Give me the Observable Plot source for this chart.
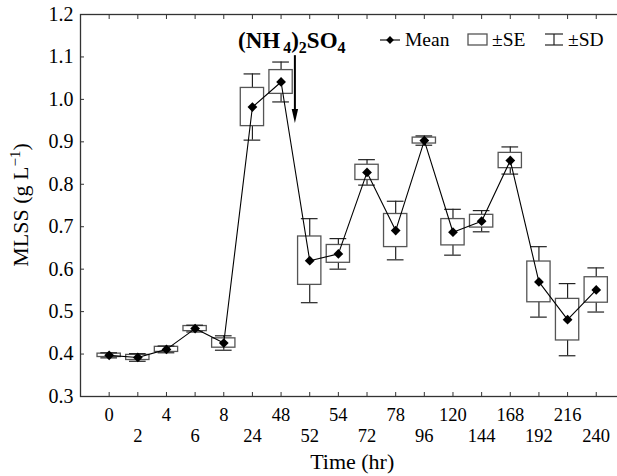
<!DOCTYPE html>
<html><head><meta charset="utf-8">
<script src="https://cdn.jsdelivr.net/npm/d3@7"></script>
<script src="https://cdn.jsdelivr.net/npm/@observablehq/plot@0.6"></script>
<style>
html,body{margin:0;padding:0;background:#fff;overflow:hidden;}
svg text{font-family:"Liberation Serif",serif;}
</style></head><body><div id="chart"></div>
<script>
// ---- data ----
const times = ["0","2","4","6","8","24","48","52","54","72","78","96","120","144","168","192","216","240"];
const means = [0.397,0.392,0.411,0.460,0.426,0.982,1.041,0.620,0.636,0.828,0.691,0.903,0.687,0.713,0.856,0.570,0.481,0.551];
const se    = [0.004,0.006,0.006,0.006,0.011,0.045,0.028,0.057,0.021,0.018,0.039,0.007,0.031,0.015,0.018,0.048,0.049,0.030];
const sd    = [0.006,0.009,0.008,0.008,0.017,0.078,0.047,0.099,0.036,0.030,0.069,0.011,0.054,0.025,0.032,0.083,0.085,0.052];
const yTicks = [0.3,0.4,0.5,0.6,0.7,0.8,0.9,1.0,1.1,1.2];
const legendLabels = ["Mean","\u00b1SE","\u00b1SD"];
const xTitle = "Time (hr)";
const arrowBetween = ["48","52"];
const arrowY = [1.103, 0.943];

const data = times.map((t,i)=>({t, m:means[i], seLo:means[i]-se[i], seHi:means[i]+se[i], sdLo:means[i]-sd[i], sdHi:means[i]+sd[i]}));
const evenT = times.filter((d,i)=>i%2===0);
const oddT = times.filter((d,i)=>i%2===1);

const W = 617, H = 476, MR = -7.4;
const plot = Plot.plot({
  width: W, height: H,
  marginLeft: 80, marginRight: MR, marginTop: 14, marginBottom: 80,
  style: {fontFamily: "Liberation Serif", fontSize: "18.5px", background: "#fff", color: "#000", overflow: "hidden"},
  x: {type: "band", domain: times, paddingInner: 0.187, paddingOuter: 0.594, round: false},
  y: {domain: [0.3, 1.2]},
  marks: [
    Plot.ruleX(data, {x: "t", y1: "sdLo", y2: "sdHi", stroke: "#222", strokeWidth: 1.2}),
    Plot.barY(data, {x: "t", y1: "seLo", y2: "seHi", fill: "#fff", stroke: "#555", strokeWidth: 1.3}),
    Plot.tickY(data, {x: "t", y: "sdHi", stroke: "#222", strokeWidth: 1.2, insetLeft: 3.3, insetRight: 3.3}),
    Plot.tickY(data, {x: "t", y: "sdLo", stroke: "#222", strokeWidth: 1.2, insetLeft: 3.3, insetRight: 3.3}),
    Plot.line(data, {x: "t", y: "m", stroke: "#000", strokeWidth: 1.1}),
    Plot.dot(data, {x: "t", y: "m", symbol: "diamond2", r: 4.4, fill: "#000", stroke: "none"}),
    Plot.frame({stroke: "#333", strokeWidth: 1.3}),
    // axes: inward ticks
    Plot.axisX({anchor: "bottom", ticks: times, tickSize: -4, tickFormat: () => "", label: null, stroke: "#333"}),
    Plot.axisX({anchor: "top", ticks: times, tickSize: -4, tickFormat: () => "", label: null, stroke: "#333"}),
    Plot.axisY({anchor: "left", ticks: yTicks, tickSize: -4, tickFormat: () => "", label: null, stroke: "#333"}),
    // labels
    Plot.axisX({anchor: "bottom", ticks: evenT, tickSize: 0, tickPadding: 11, label: null, fill: "#000"}),
    Plot.axisX({anchor: "bottom", ticks: oddT, tickSize: 0, tickPadding: 32, label: null, fill: "#000"}),
    Plot.axisY({anchor: "left", ticks: yTicks, tickSize: 0, tickPadding: 7, tickFormat: d3.format(".1f"), label: null, fill: "#000", fontSize: 20})
  ]
});
document.getElementById("chart").appendChild(plot);

const svg = d3.select(plot);
const xs = plot.scale("x"), ys = plot.scale("y");
const bw = xs.bandwidth;
const fx = t => xs.apply(t) + bw/2;

// x title
svg.append("text").attr("x", (80 + W - MR)/2).attr("y", 469).attr("text-anchor","middle")
  .style("font-size","22px").attr("fill","#000").text(xTitle);

// y title with superscript
const yt = svg.append("text").attr("transform", `translate(28,${(14+396)/2}) rotate(-90)`)
  .attr("text-anchor","middle").style("font-size","22px").attr("fill","#000");
yt.append("tspan").text("MLSS (g L");
yt.append("tspan").attr("dy","-8").style("font-size","15px").text("\u22121");
yt.append("tspan").attr("dy","8").text(")");

// annotation (NH4)2SO4 and arrow
const ax = (fx(arrowBetween[0]) + fx(arrowBetween[1]))/2;
const an = svg.append("text").attr("x", 238).attr("y", 48).attr("text-anchor","start")
  .style("font-size","23px").style("font-weight","bold").attr("fill","#000");
an.append("tspan").text("(NH");
an.append("tspan").attr("dy","5").attr("dx","3").style("font-size","16px").text("4");
an.append("tspan").attr("dy","-5").text(")");
an.append("tspan").attr("dy","5").style("font-size","16px").text("2");
an.append("tspan").attr("dy","-5").text("SO");
an.append("tspan").attr("dy","5").style("font-size","16px").text("4");

const y0 = ys.apply(arrowY[0]), y1 = ys.apply(arrowY[1]);
svg.append("line").attr("x1",ax).attr("x2",ax).attr("y1",y0).attr("y2",y1-12).attr("stroke","#000").attr("stroke-width",2);
svg.append("path").attr("d",`M${ax-3.2},${y1-14}L${ax+3.2},${y1-14}L${ax},${y1}Z`).attr("fill","#000");

// legend
const ly = 40;
const lg = svg.append("g").attr("text-anchor","start");
lg.append("line").attr("x1",380).attr("x2",400).attr("y1",ly).attr("y2",ly).attr("stroke","#000").attr("stroke-width",1.1);
lg.append("path").attr("d", d3.symbol(d3.symbolDiamond2, 2*4.4*4.4)()).attr("transform",`translate(390,${ly})`).attr("fill","#000");
lg.append("text").attr("x",405).attr("y",ly+6).style("font-size","19.5px").attr("fill","#000").text(legendLabels[0]);
lg.append("rect").attr("x",468).attr("y",ly-6).attr("width",19).attr("height",11).attr("fill","#fff").attr("stroke","#555").attr("stroke-width",1.3);
lg.append("text").attr("x",492).attr("y",ly+6).style("font-size","19.5px").attr("fill","#000").text(legendLabels[1]);
lg.append("line").attr("x1",554).attr("x2",554).attr("y1",ly-6).attr("y2",ly+5).attr("stroke","#222").attr("stroke-width",1.2);
lg.append("line").attr("x1",545).attr("x2",563).attr("y1",ly-6).attr("y2",ly-6).attr("stroke","#222").attr("stroke-width",1.2);
lg.append("line").attr("x1",545).attr("x2",563).attr("y1",ly+5).attr("y2",ly+5).attr("stroke","#222").attr("stroke-width",1.2);
lg.append("text").attr("x",568).attr("y",ly+6).style("font-size","19.5px").attr("fill","#000").text(legendLabels[2]);
</script></body></html>
